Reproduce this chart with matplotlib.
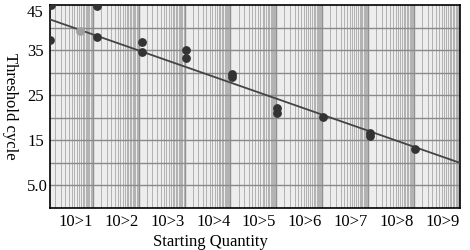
import numpy as np
import matplotlib
matplotlib.use("Agg")
from matplotlib import pyplot as plt
from matplotlib import transforms
from matplotlib.ticker import LogLocator, FixedLocator, NullFormatter

plt.rcParams['font.family'] = ['Liberation Serif', 'DejaVu Serif']

# standards (dark points)
quantity = [10 ** 0.07, 10 ** 0.1, 10 ** 1.09, 10 ** 1.09, 10 ** 2.07, 10 ** 2.07,
            10 ** 3.04, 10 ** 3.04, 10 ** 4.04, 10 ** 4.04, 10 ** 5.02, 10 ** 5.02,
            10 ** 6.02, 10 ** 7.04, 10 ** 7.04, 10 ** 8.02]
ct = [37.2, 45.0, 44.7, 37.8, 36.7, 34.5,
      35.0, 33.2, 29.6, 29.0, 22.1, 21.0,
      20.1, 16.6, 15.9, 13.1]
# faded point
faded_quantity = [10 ** 0.72]
faded_ct = [39.2]
# fitted standard curve
fit_x = [10 ** 0.07, 10 ** 9]
fit_y = [41.8, 10.0]

xtick_pos = [10 ** k for k in range(1, 10)]
xtick_labels = ['10>%d' % k for k in range(1, 10)]
ytick_pos = [5, 15, 25, 35, 45]
ytick_labels = ['5.0', '15', '25', '35', '45']
ygrid = [5, 10, 15, 20, 25, 30, 35, 40]

fig = plt.figure(figsize=(4.7, 2.5), dpi=100)
ax = fig.add_axes([50 / 470, 42 / 250, 410 / 470, 203 / 250])
ax.set_facecolor('#ededed')

ax.set_xscale('log')
ax.set_xlim(10 ** 0.07, 10 ** 9)
ax.set_ylim(0, 45)

# vertical log grid
ax.xaxis.set_major_locator(FixedLocator(xtick_pos))
ax.xaxis.set_minor_locator(LogLocator(base=10, subs=np.arange(1.5, 10, 0.5), numticks=100))
ax.xaxis.set_minor_formatter(NullFormatter())
ax.grid(True, which='major', axis='x', color='#909090', linewidth=1.0)
ax.grid(True, which='minor', axis='x', color='#b2b2b2', linewidth=0.7)
# horizontal grid every 5
for gy in ygrid:
    ax.axhline(gy, color='#8a8a8a', linewidth=1.0, zorder=1)
ax.set_axisbelow(True)

ax.plot(fit_x, fit_y, color='#444444', linewidth=1.3, zorder=3)
ax.scatter(quantity, ct, s=28, color='#333333', zorder=4)
ax.scatter(faded_quantity, faded_ct, s=28, color='#a0a0a0', zorder=4)

ax.set_xticks(xtick_pos)
ax.set_xticklabels(xtick_labels, fontsize=12)
shift = transforms.ScaledTranslation(3 / 100, 0, fig.dpi_scale_trans)
for lab in ax.get_xticklabels():
    lab.set_horizontalalignment('right')
    lab.set_transform(lab.get_transform() + shift)
ax.set_yticks(ytick_pos)
ax.set_yticklabels(ytick_labels, fontsize=12)
for lab in ax.get_yticklabels():
    lab.set_horizontalalignment('left')
top_lab = ax.get_yticklabels()[-1]
top_lab.set_verticalalignment('top')
top_lab.set_transform(top_lab.get_transform()
                      + transforms.ScaledTranslation(0, -3 / 100, fig.dpi_scale_trans))
ax.tick_params(axis='both', which='both', length=0)
ax.tick_params(axis='y', pad=16.5)
ax.tick_params(axis='x', pad=4)

for sp in ax.spines.values():
    sp.set_color('black')
    sp.set_linewidth(1.2)

ax.set_xlabel('Starting Quantity', fontsize=12)
ax.xaxis.set_label_coords((210 - 50) / 410, -0.13)
ax.set_ylabel('Threshold cycle', fontsize=12, rotation=270, va='center')
ax.yaxis.set_label_coords(-40 / 410, 0.5)

fig.savefig('out.png', dpi=100)
